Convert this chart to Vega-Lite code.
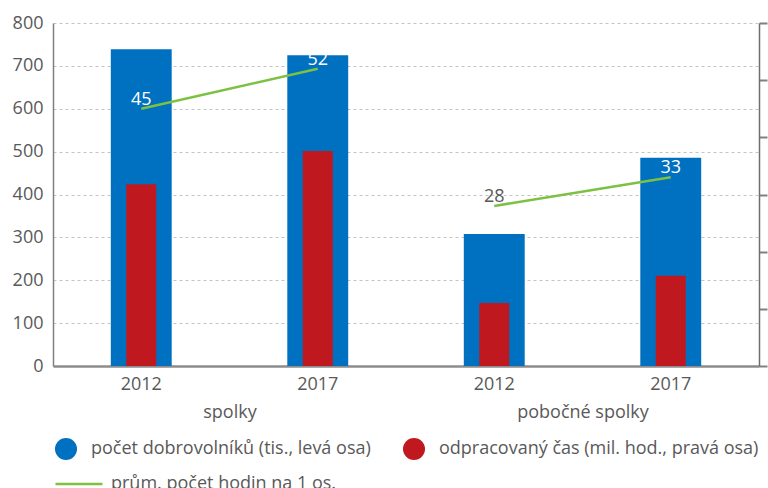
{
  "$schema": "https://vega.github.io/schema/vega-lite/v6.json",
  "width": 706,
  "height": 343,
  "autosize": "none",
  "padding": {"left": 53, "top": 23, "right": 9, "bottom": 122},
  "config": {
    "font": "Open Sans",
    "view": {"stroke": null},
    "axis": {"labelFont": "Open Sans", "labelFontSize": 18, "labelColor": "#595959", "title": null},
    "legend": {"labelFont": "Open Sans", "labelFontSize": 18, "labelColor": "#595959", "title": null}
  },
  "datasets": {
    "main": [
      {"cat": "spolky|2012", "group": "spolky", "volunteers": 739, "hours": 31.8, "avg": 45},
      {"cat": "spolky|2017", "group": "spolky", "volunteers": 725, "hours": 37.6, "avg": 52},
      {"cat": "pobočné spolky|2012", "group": "pobočné spolky", "volunteers": 308, "hours": 11.0, "avg": 28},
      {"cat": "pobočné spolky|2017", "group": "pobočné spolky", "volunteers": 486, "hours": 15.8, "avg": 33}
    ],
    "groups": [
      {"group": "spolky"},
      {"group": "pobočné spolky"}
    ]
  },
  "layer": [
    {
      "data": {"name": "main"},
      "encoding": {
        "x": {
          "field": "cat", "type": "nominal", "sort": null,
          "scale": {"paddingInner": 0, "paddingOuter": 0},
          "axis": {
            "orient": "bottom",
            "labelExpr": "split(datum.label, '|')[1]",
            "labelAngle": 0,
            "labelPadding": 9,
            "ticks": false,
            "domainColor": "#8c8c8c",
            "domainWidth": 2.5,
            "grid": false
          }
        }
      },
      "layer": [
        {
          "mark": {"type": "bar", "width": {"band": 0.345}},
          "encoding": {
            "y": {
              "field": "volunteers", "type": "quantitative",
              "scale": {"domain": [0, 800], "nice": false},
              "axis": {
                "orient": "left",
                "values": [0, 100, 200, 300, 400, 500, 600, 700, 800],
                "ticks": false,
                "labelPadding": 10,
                "domainColor": "#808080",
                "domainWidth": 1.5,
                "grid": true,
                "gridColor": "#c4c4c4",
                "gridDash": [3, 3],
                "gridWidth": 1
              }
            },
            "color": {
              "datum": "počet dobrovolníků (tis., levá osa)",
              "type": "nominal",
              "scale": {
                "domain": ["počet dobrovolníků (tis., levá osa)", "odpracovaný čas (mil. hod., pravá osa)"],
                "range": ["#0070C0", "#C0181F"]
              },
              "legend": {
                "orient": "none",
                "legendX": 2,
                "legendY": 415,
                "direction": "horizontal",
                "columns": 2,
                "symbolType": "circle",
                "symbolSize": 484,
                "symbolStrokeWidth": 0,
                "labelOffset": 14,
                "columnPadding": 32,
                "labelLimit": 400
              }
            }
          }
        },
        {
          "layer": [
            {
              "mark": {"type": "bar", "width": {"band": 0.17}},
              "encoding": {
                "y": {
                  "field": "hours", "type": "quantitative",
                  "scale": {"domain": [0, 60], "nice": false},
                  "axis": {
                    "orient": "right",
                    "values": [0, 10, 20, 30, 40, 50, 60],
                    "labels": false,
                    "ticks": true,
                    "tickSize": 8,
                    "tickWidth": 2,
                    "tickColor": "#808080",
                    "domainColor": "#6e6e6e",
                    "domainWidth": 1.5,
                    "grid": false
                  }
                },
                "color": {"datum": "odpracovaný čas (mil. hod., pravá osa)", "type": "nominal"}
              }
            },
            {
              "mark": {"type": "line", "strokeWidth": 2.5},
              "encoding": {
                "y": {"field": "avg", "type": "quantitative"},
                "detail": {"field": "group"},
                "stroke": {
                  "datum": "prům. počet hodin na 1 os.",
                  "type": "nominal",
                  "scale": {"range": ["#7CC142"]},
                  "legend": {
                    "orient": "none",
                    "legendX": 1,
                    "legendY": 436,
                    "symbolType": "stroke",
                    "symbolSize": 2209,
                    "symbolStrokeWidth": 2.5,
                    "labelOffset": 7,
                    "labelLimit": 400
                  }
                }
              }
            },
            {
              "mark": {"type": "text", "dy": -9, "fontSize": 18, "align": "center"},
              "encoding": {
                "y": {"field": "avg", "type": "quantitative"},
                "text": {"field": "avg", "type": "quantitative"},
                "color": {"condition": {"test": "datum.avg < 30", "value": "#595959"}, "value": "#ffffff"}
              }
            }
          ]
        }
      ],
      "resolve": {"scale": {"y": "independent"}}
    },
    {
      "data": {"name": "groups"},
      "mark": {"type": "text", "opacity": 0},
      "encoding": {
        "x": {
          "field": "group", "type": "nominal", "sort": null,
          "scale": {"paddingInner": 0, "paddingOuter": 0},
          "axis": {
            "orient": "bottom",
            "labelAngle": 0,
            "labelPadding": 37,
            "ticks": false,
            "domain": false,
            "grid": false
          }
        },
        "text": {"value": ""}
      }
    }
  ],
  "resolve": {"scale": {"x": "independent"}}
}
